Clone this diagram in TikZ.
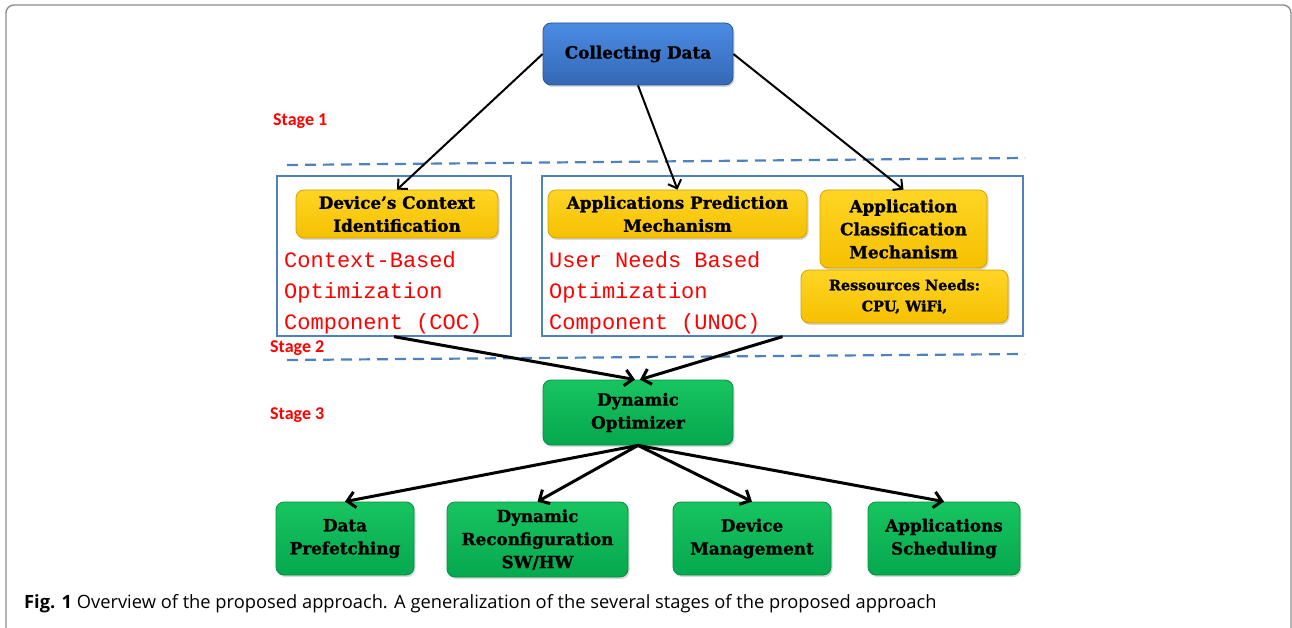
\documentclass[tikz,border=0pt]{standalone}
\usepackage{fontspec}
\setmainfont{DejaVu Serif}[BoldFeatures={FakeBold=1.3}]
\newfontfamily\stagefont{Carlito}
\newfontfamily\compfont{Liberation Mono}
\newfontfamily\capfont{Open Sans}
\usetikzlibrary{arrows.meta,shadows}
\definecolor{frame}{HTML}{8C8C8C}
\definecolor{lineblue}{HTML}{4F81BD}
\definecolor{bluetop}{HTML}{4A8CE4}
\definecolor{bluebot}{HTML}{3568B5}
\definecolor{yellowtop}{HTML}{FFD526}
\definecolor{yellowbot}{HTML}{F5C000}
\definecolor{greentop}{HTML}{18C460}
\definecolor{greenbot}{HTML}{05A84E}
\definecolor{stagered}{HTML}{FF0000}
\tikzset{
  blk/.style={rounded corners=8pt, line width=0.8pt, align=center, inner sep=2pt,
    font=\fontsize{16.8}{23}\selectfont\bfseries,
    drop shadow={opacity=0.3, shadow xshift=1.5pt, shadow yshift=-2pt}},
  bluebox/.style={blk, draw=bluebot!80!black, top color=bluetop, bottom color=bluebot},
  yellowbox/.style={blk, draw=yellowbot!85!black, top color=yellowtop, bottom color=yellowbot},
  greenbox/.style={blk, draw=greenbot!85!black, top color=greentop, bottom color=greenbot},
  groupbox/.style={draw=lineblue, line width=1.3pt},
  comptext/.style={text=stagered, align=left, inner sep=0pt, anchor=north west,
    font=\compfont\fontsize{22}{31}\selectfont},
  stagelabel/.style={text=stagered, inner sep=0pt, anchor=base west,
    font=\stagefont\fontsize{18}{20}\selectfont\bfseries},
  stageline/.style={draw=lineblue, line width=2.2pt, dash pattern=on 11pt off 7pt},
  toparrow/.style={-{Straight Barb[length=7pt,width=14pt]}, line width=2pt, draw=black},
  lowarrow/.style={-{Straight Barb[length=8pt,width=16pt]}, line width=3pt, draw=black}
}
\begin{document}
\begin{tikzpicture}[x=1pt,y=-1pt]
\useasboundingbox (0,0) rectangle (1292,628);
\draw[frame, line width=1.4pt, rounded corners=8pt] (6,660) -- (6,5) -- (1291,5) -- (1291,660);
% stage separators
\draw[stageline] (287,165) -- (1025,158);
\draw[stageline] (287,360) -- (1025,354);
\node[stagelabel] (s1) at (273,126) {Stage 1};
\node[stagelabel] (s2) at (270,352) {Stage 2};
\node[stagelabel] (s3) at (270,419) {Stage 3};
% stage 1 and 2 components
\node[groupbox, minimum width=234pt, minimum height=160pt] (coc) at (394,256) {};
\node[groupbox, minimum width=481pt, minimum height=160pt] (unoc) at (782.5,256) {};
\node[bluebox, minimum width=190pt, minimum height=62pt] (collect) at (638,54) {Collecting Data};
\node[yellowbox, minimum width=202pt, minimum height=48pt] (devctx) at (397,214) {Device’s Context\\Identification};
\node[yellowbox, minimum width=259pt, minimum height=48pt] (apppred) at (677.5,214) {Applications Prediction\\Mechanism};
\node[yellowbox, minimum width=167pt, minimum height=78pt] (appclass) at (903.5,229) {Application\\Classification\\Mechanism};
\node[yellowbox, minimum width=207pt, minimum height=53pt, font=\fontsize{14.4}{21}\selectfont\bfseries] (res) at (904.5,296.5) {Ressources Needs:\\CPU, WiFi,};
\node[comptext] (coctext) at (284,251) {Context-Based\\Optimization\\Component (COC)};
\node[comptext] (unoctext) at (549,251) {User Needs Based\\Optimization\\Component (UNOC)};
% stage 3
\node[greenbox, minimum width=190pt, minimum height=65pt] (opt) at (638,412.5) {Dynamic\\Optimizer};
\node[greenbox, minimum width=138pt, minimum height=73pt] (prefetch) at (345,538.5) {Data\\Prefetching};
\node[greenbox, minimum width=181pt, minimum height=75pt] (reconf) at (537.5,539.5) {Dynamic\\Reconfiguration\\SW/HW};
\node[greenbox, minimum width=158pt, minimum height=73pt] (devmgmt) at (752,538.5) {Device\\Management};
\node[greenbox, minimum width=152pt, minimum height=73pt] (appsched) at (944,538.5) {Applications\\Scheduling};
\draw[toparrow] (collect.west) -- (devctx.north);
\draw[toparrow] (collect.south) -- (apppred.north);
\draw[toparrow] (collect.east) -- (appclass.north);
\draw[lowarrow] (coc.south) -- ([xshift=-3pt]opt.north);
\draw[lowarrow] (unoc.south) -- ([xshift=2pt]opt.north);
\draw[lowarrow] (opt.south) -- (prefetch.north);
\draw[lowarrow] (opt.south) -- (reconf.north);
\draw[lowarrow] (opt.south) -- (devmgmt.north);
\draw[lowarrow] (opt.south) -- (appsched.north);
\node[anchor=base west, inner sep=0pt, font=\capfont\fontsize{18.3}{20}\selectfont] (caption) at (24,608) {\textbf{Fig. 1} Overview of the proposed approach. A generalization of the several stages of the proposed approach};
\end{tikzpicture}
\end{document}
